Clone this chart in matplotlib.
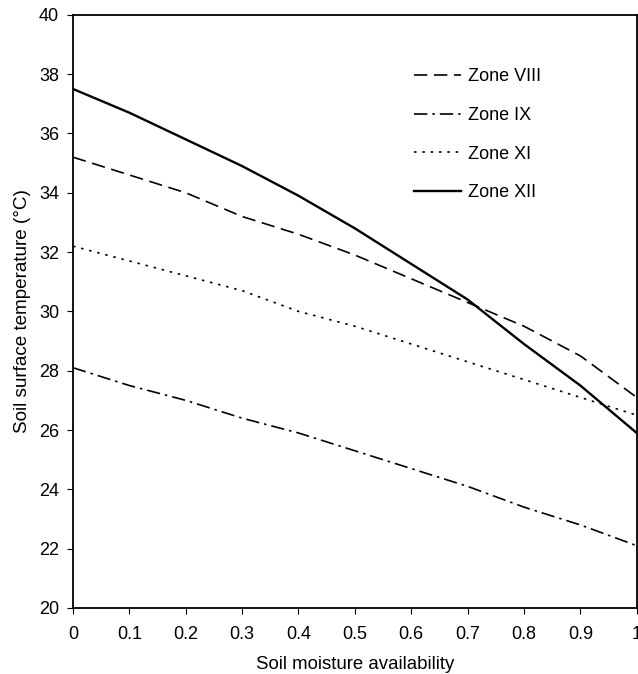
import matplotlib
matplotlib.use("Agg")
import matplotlib.pyplot as plt

plt.rcParams['font.family'] = ['Liberation Sans', 'DejaVu Sans']

x = [0, 0.1, 0.2, 0.3, 0.4, 0.5, 0.6, 0.7, 0.8, 0.9, 1.0]
zone_viii = [35.2, 34.6, 34.0, 33.2, 32.6, 31.9, 31.1, 30.3, 29.5, 28.5, 27.1]
zone_ix = [28.1, 27.5, 27.0, 26.4, 25.9, 25.3, 24.7, 24.1, 23.4, 22.8, 22.1]
zone_xi = [32.2, 31.7, 31.2, 30.7, 30.0, 29.5, 28.9, 28.3, 27.7, 27.1, 26.5]
zone_xii = [37.5, 36.7, 35.8, 34.9, 33.9, 32.8, 31.6, 30.4, 28.9, 27.5, 25.9]
labels = ["Zone VIII", "Zone IX", "Zone XI", "Zone XII"]
xticks = [0, 0.1, 0.2, 0.3, 0.4, 0.5, 0.6, 0.7, 0.8, 0.9, 1]
xticklabels = ["0", "0.1", "0.2", "0.3", "0.4", "0.5", "0.6", "0.7", "0.8", "0.9", "1"]
yticks = [20, 22, 24, 26, 28, 30, 32, 34, 36, 38, 40]

fig = plt.figure(figsize=(6.38, 6.74), dpi=100)
ax = fig.add_axes([0.1144, 0.098, 0.8836, 0.880])

ax.plot(x, zone_viii, color='black', lw=1.2, linestyle=(0, (8, 4)), label=labels[0])
ax.plot(x, zone_ix, color='black', lw=1.2, linestyle=(0, (8, 3, 1.5, 3)), label=labels[1])
ax.plot(x, zone_xi, color='black', lw=1.2, linestyle=(0, (1.5, 3.5)), label=labels[2])
ax.plot(x, zone_xii, color='black', lw=1.7, linestyle='-', label=labels[3])

ax.set_xlim(0, 1)
ax.set_ylim(20, 40)
ax.set_xticks(xticks)
ax.set_xticklabels(xticklabels)
ax.set_yticks(yticks)
ax.tick_params(axis='both', direction='out', length=4, width=0.8, labelsize=13, colors='black')
ax.tick_params(axis='x', pad=9)
ax.tick_params(axis='y', pad=6)
for s in ax.spines.values():
    s.set_linewidth(1.3)
    s.set_color('black')

ax.set_xlabel("Soil moisture availability", fontsize=13.4, labelpad=9)
ax.set_ylabel("Soil surface temperature (°C)", fontsize=13.6, labelpad=6)

leg = ax.legend(loc='upper left', bbox_to_anchor=(0.576, 0.937), frameon=False,
                handlelength=2.6, handletextpad=0.4, labelspacing=1.2, fontsize=13)

fig.savefig("out.png", dpi=100)
